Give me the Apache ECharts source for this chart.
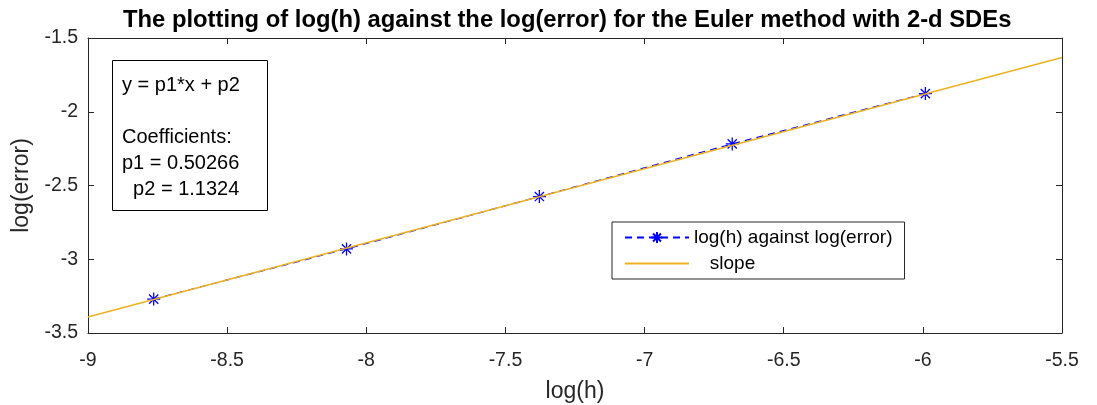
<!DOCTYPE html>
<html>
<head>
<meta charset="utf-8">
<script src="https://cdn.jsdelivr.net/npm/echarts@6/dist/echarts.min.js"></script>
<style>
html,body{margin:0;padding:0;background:#fff;}
#chart{width:1097px;height:405px;}
</style>
</head>
<body>
<div id="chart"></div>
<script>
// Data
const logH = [-8.764, -8.071, -7.378, -6.685, -5.991];
const logErr = [-3.270, -2.930, -2.575, -2.218, -1.877];
const slopeX = [-9, -5.5];
const slopeY = [-3.3916, -1.632];
const xTicks = { min: -9, max: -5.5, interval: 0.5 };
const yTicks = { min: -3.5, max: -1.5, interval: 0.5 };
const titleText = 'The plotting of log(h) against the log(error) for the Euler method with 2-d SDEs';
const fitLines = ['y = p1*x + p2', '', 'Coefficients:', 'p1 = 0.50266', '  p2 = 1.1324'];
const seriesNames = ['log(h) against log(error)', 'slope'];

const FONT = 'Liberation Sans, Arial, sans-serif';
const AX = '#262626';
const asterisk = 'path://M0,-10L0,10M-10,0L10,0M-7.07,-7.07L7.07,7.07M-7.07,7.07L7.07,-7.07';

const chart = echarts.init(document.getElementById('chart'), null, {renderer: 'canvas'});

const baseX = {
  type: 'value', min: xTicks.min, max: xTicks.max, interval: xTicks.interval,
  axisLine: {show: true, onZero: false, lineStyle: {color: AX, width: 1}},
  axisTick: {show: true, inside: true, length: 6, lineStyle: {color: AX}},
  splitLine: {show: false}
};
const baseY = {
  type: 'value', min: yTicks.min, max: yTicks.max, interval: yTicks.interval,
  axisLine: {show: true, onZero: false, lineStyle: {color: AX, width: 1}},
  axisTick: {show: true, inside: true, length: 6, lineStyle: {color: AX}},
  splitLine: {show: false}
};

chart.setOption({
  animation: false,
  backgroundColor: '#ffffff',
  textStyle: {fontFamily: FONT},
  title: {
    text: titleText, left: 118, top: 3,
    textStyle: {fontFamily: FONT, fontSize: 23.8, fontWeight: 'bold', color: '#000'}
  },
  grid: {left: 88, right: 35, top: 38, bottom: 72, containLabel: false, outerBoundsMode: 'none'},
  xAxis: [
    Object.assign({}, baseX, {
      position: 'bottom',
      name: 'log(h)', nameLocation: 'middle', nameGap: 47,
      nameTextStyle: {fontFamily: FONT, fontSize: 23, color: AX},
      axisLabel: {show: true, fontFamily: FONT, fontSize: 19.5, color: AX, margin: 18,
        formatter: v => String(v)}
    }),
    Object.assign({}, baseX, {position: 'top', axisLabel: {show: false}})
  ],
  yAxis: [
    Object.assign({}, baseY, {
      position: 'left',
      name: 'log(error)', nameLocation: 'middle', nameGap: 53, nameRotate: 90,
      nameTextStyle: {fontFamily: FONT, fontSize: 23, color: AX},
      axisLabel: {show: true, fontFamily: FONT, fontSize: 19.5, color: AX, margin: 10,
        formatter: v => String(v)}
    }),
    Object.assign({}, baseY, {position: 'right', axisLabel: {show: false}})
  ],
  legend: {
    show: true, orient: 'vertical', left: 612, top: 222,
    width: 290, itemWidth: 64, itemHeight: 14, itemGap: 7,
    padding: [6, 12, 6, 12],
    borderColor: AX, borderWidth: 1, backgroundColor: '#fff',
    textStyle: {fontFamily: FONT, fontSize: 19, color: '#000'},
    formatter: n => (n === 'slope' ? '   ' + n : n),
    data: [
      {name: seriesNames[0]},
      {name: seriesNames[1], itemStyle: {opacity: 0}}
    ]
  },
  series: [
    {
      name: seriesNames[0], type: 'line',
      data: logH.map((x, i) => [x, logErr[i]]),
      lineStyle: {color: '#0000ff', width: 1.2, type: [7, 5]},
      symbol: asterisk, symbolSize: 13,
      itemStyle: {color: 'rgba(0,0,0,0)', borderColor: '#0000ff', borderWidth: 1.3},
      z: 3
    },
    {
      name: seriesNames[1], type: 'line',
      data: slopeX.map((x, i) => [x, slopeY[i]]),
      lineStyle: {color: '#EDB120', width: 1.5},
      itemStyle: {color: '#EDB120'},
      symbol: 'none', z: 4
    }
  ],
  graphic: [
    {
      type: 'rect', left: 112, top: 60, z: 10,
      shape: {width: 155, height: 150},
      style: {fill: '#fff', stroke: '#000', lineWidth: 1}
    },
    {
      type: 'text', left: 122, top: 72, z: 11,
      style: {text: fitLines.join('\n'), fontFamily: FONT, fontSize: 20,
        lineHeight: 26, fill: '#000'}
    }
  ]
});
</script>
</body>
</html>
